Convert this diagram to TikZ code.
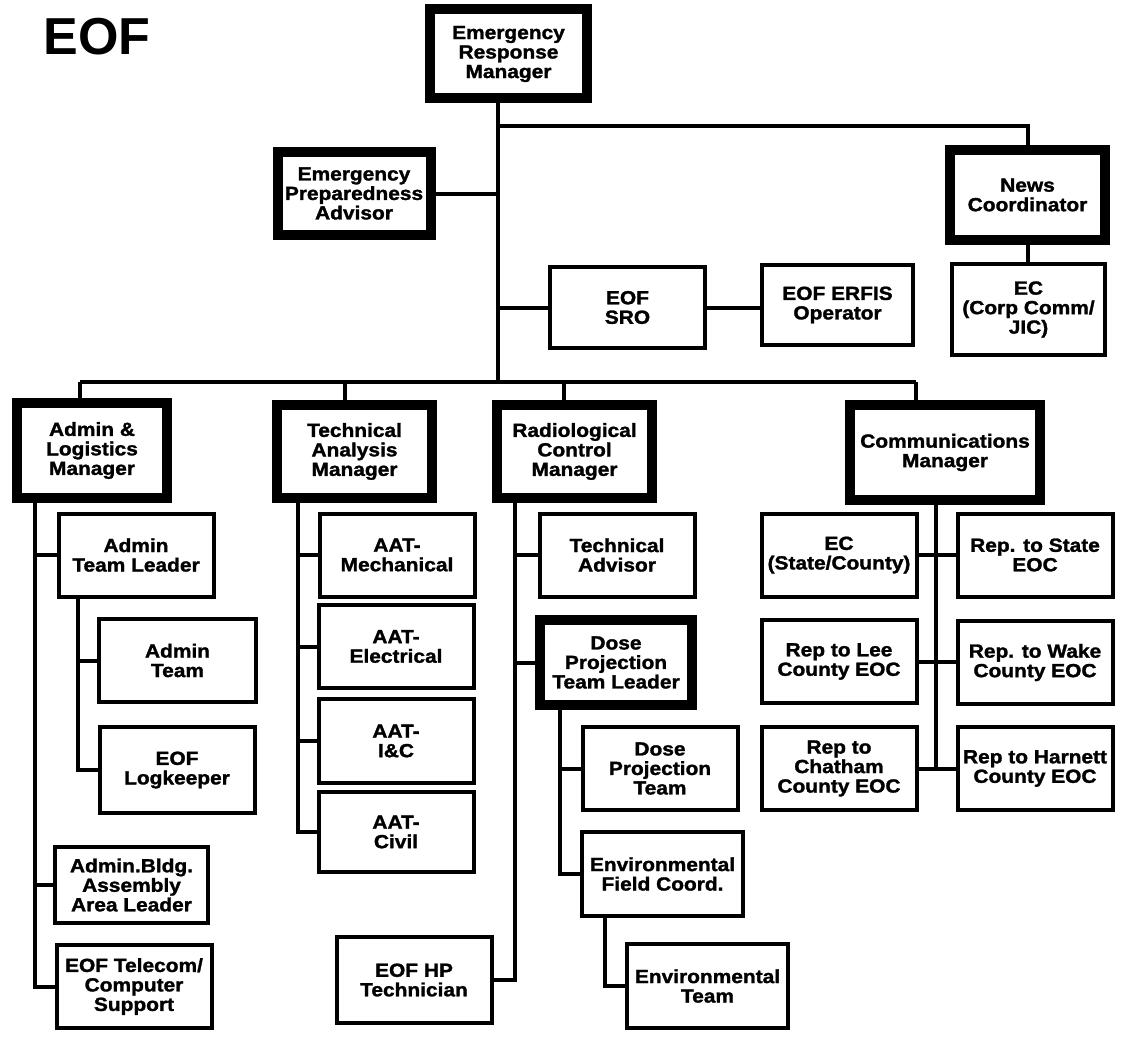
\documentclass[tikz,border=0pt]{standalone}
\usepackage{fontspec}
\setmainfont{Liberation Sans}
\newfontfamily\chartfont{Liberation Sans}[FakeStretch=1.1, BoldFeatures={FakeBold=1.5}]

\tikzset{
  box/.style={draw, line width=4pt, minimum width=155pt, minimum height=83pt,
    inner sep=0pt, align=center, font=\chartfont\bfseries\fontsize{19}{19.5}\selectfont},
  mgrbox/.style={box, line width=10pt},
  link/.style={line width=4pt}
}

\begin{document}
\begin{tikzpicture}[x=1pt,y=-1pt]
\path[fill=white,use as bounding box] (0,0) rectangle (1131,1038);
\node[anchor=base west,font=\bfseries\fontsize{52}{52}\selectfont] (title) at (40,55) {EOF};

% top of the chart
\node[mgrbox,minimum width=157pt,minimum height=89pt] (erm) at (508.5,54) {Emergency\\Response\\Manager};
\node[mgrbox,minimum width=153pt,minimum height=83pt] (epa) at (354,193.5) {Emergency\\Preparedness\\Advisor};
\node[mgrbox,minimum width=155pt,minimum height=90pt] (news) at (1027.5,195) {News\\Coordinator};
\node[box,minimum width=153pt,minimum height=91pt] (ecjic) at (1028.5,309.5) {EC\\(Corp Comm/\\JIC)};
\node[box,minimum height=81pt] (sro) at (627.5,307.5) {EOF\\SRO};
\node[box,minimum width=151pt,minimum height=80pt] (erfis) at (837.5,305) {EOF ERFIS\\Operator};

% managers
\node[mgrbox,minimum width=150pt,minimum height=95pt] (alm) at (92,450.5) {Admin \&\\Logistics\\Manager};
\node[mgrbox,minimum width=155pt,minimum height=93pt] (tam) at (354.5,451.5) {Technical\\Analysis\\Manager};
\node[mgrbox,minimum width=155pt,minimum height=93pt] (rcm) at (574.5,451.5) {Radiological\\Control\\Manager};
\node[mgrbox,minimum width=190pt,minimum height=95pt] (cm) at (945,452.5) {Communications\\Manager};

% admin column
\node[box] (atl) at (136,555) {Admin\\Team Leader};
\node[box,minimum width=157pt] (adteam) at (177.5,660.5) {Admin\\Team};
\node[box,minimum height=86pt] (logk) at (177,770) {EOF\\Logkeeper};
\node[box,minimum width=153pt,minimum height=76pt] (aabl) at (131.5,885) {Admin.Bldg.\\Assembly\\Area Leader};
\node[box] (tel) at (134,986.5) {EOF Telecom/\\Computer\\Support};

% technical analysis column
\node[box] (mech) at (397,555) {AAT-\\Mechanical};
\node[box] (elec) at (396,646.5) {AAT-\\Electrical};
\node[box,minimum height=84pt] (ic) at (396,741) {AAT-\\I\&C};
\node[box,minimum height=80pt] (civ) at (396,832) {AAT-\\Civil};
\node[box,minimum height=86pt] (hp) at (414,980) {EOF HP\\Technician};

% radiological column
\node[box] (tadv) at (617,555) {Technical\\Advisor};
\node[mgrbox,minimum width=152pt,minimum height=85pt] (dptl) at (616,662.5) {Dose\\Projection\\Team Leader};
\node[box] (dpt) at (660,768.5) {Dose\\Projection\\Team};
\node[box,minimum width=161pt,minimum height=84pt] (efc) at (662.5,874) {Environmental\\Field Coord.};
\node[box,minimum width=161pt,minimum height=84pt] (envt) at (707.5,986) {Environmental\\Team};

% communications column
\node[box] (ecsc) at (839,555) {EC\\(State/County)};
\node[box] (rsta) at (1035,555) {Rep. to State\\EOC};
\node[box] (rlee) at (839,661.5) {Rep to Lee\\County EOC};
\node[box] (rwake) at (1035,662.5) {Rep. to Wake\\County EOC};
\node[box] (chat) at (839,768.5) {Rep to\\Chatham\\County EOC};
\node[box] (harn) at (1035,768.5) {Rep to Harnett\\County EOC};

% connectors
\coordinate (bus) at (0,382);
\coordinate (newsbar) at (0,126);
\coordinate (ermtr) at ([xshift=-10.5pt]erm.south);
\draw[link] (ermtr) -- (ermtr |- bus);
\draw[link] (ermtr |- newsbar) -| (news.north);
\draw[link] (epa.east) -- (epa.east -| ermtr);
\draw[link] (ermtr |- sro.west) -- (sro.west);
\draw[link] (sro.east) -- (sro.east -| erfis.west);
\draw[link] (news.south) -- (news.south |- ecjic.north);
\foreach \m/\dx in {alm/-12,tam/-10,rcm/-11,cm/-29}{
  \coordinate (\m-top) at ([xshift=\dx pt]\m.north);
  \draw[link] (\m-top) -- (\m-top |- bus);
}
\draw[link] (alm-top |- bus) -- (cm-top |- bus);

\coordinate (altr) at ([xshift=23pt]alm.south west);
\draw[link] (altr) |- (tel.west);
\foreach \n in {atl,aabl} \draw[link] (altr |- \n.west) -- (\n.west);
\coordinate (atltr) at ([xshift=21pt]atl.south west);
\draw[link] (atltr) |- (logk.west);
\draw[link] (atltr |- adteam.west) -- (adteam.west);

\coordinate (tatr) at ([xshift=26pt]tam.south west);
\draw[link] (tatr) |- (civ.west);
\foreach \n in {mech,elec,ic} \draw[link] (tatr |- \n.west) -- (\n.west);

\coordinate (rctr) at ([xshift=23pt]rcm.south west);
\draw[link] (rctr) |- (hp.east);
\foreach \n in {tadv,dptl} \draw[link] (rctr |- \n.west) -- (\n.west);
\coordinate (dptr) at ([xshift=25pt]dptl.south west);
\draw[link] (dptr) |- (efc.west);
\draw[link] (dptr |- dpt.west) -- (dpt.west);
\coordinate (efctr) at ([xshift=25pt]efc.south west);
\draw[link] (efctr) |- (envt.west);

\coordinate (cmtr) at ([xshift=-9pt]cm.south);
\draw[link] (cmtr) -- (cmtr |- chat.east);
\foreach \l/\r in {ecsc/rsta,rlee/rwake,chat/harn} \draw[link] (\l.east) -- (\l.east -| \r.west);
\end{tikzpicture}
\end{document}
